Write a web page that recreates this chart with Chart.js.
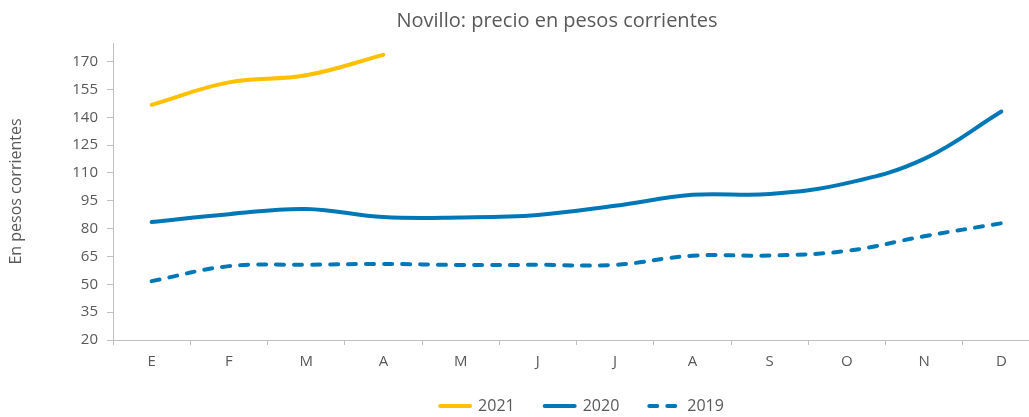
<!DOCTYPE html>
<html>
<head>
<meta charset="utf-8">
<script src="https://cdn.jsdelivr.net/npm/chart.js@4/dist/chart.umd.min.js"></script>
<style>
  body { margin: 0; overflow: hidden; background: #fff; }
  #wrap { position: relative; width: 1045px; height: 428px; }
</style>
</head>
<body>
<div id="wrap"><canvas id="novillo"></canvas></div>
<script>
// meses (eje x)
const meses = ['E', 'F', 'M', 'A', 'M', 'J', 'J', 'A', 'S', 'O', 'N', 'D'];

// precios
const precio2021 = [146.7, 158.8, 162.6, 173.6];
const precio2020 = [83.6, 87.8, 90.6, 86.2, 86.0, 87.4, 92.3, 98.2, 98.6, 104.5, 117.6, 143.1];
const precio2019 = [51.7, 59.8, 60.5, 61.0, 60.4, 60.5, 60.5, 65.4, 65.5, 68.0, 75.9, 82.9];

// eje y
const yMin = 20;
const yMax = 180;
const yTicks = [20, 35, 50, 65, 80, 95, 110, 125, 140, 155, 170];

const gris = '#595959';
const lineaEje = '#bfbfbf';
const amarillo = '#FFC000';
const azul = '#0078B8';
const fuente = "'Open Sans', sans-serif";

// corre el titulo y la leyenda para ubicarlos como en el original
const nudge = {
  id: 'nudge',
  afterLayout(chart) {
    chart.titleBlock.left += 37;
    chart.titleBlock.right += 37;
    chart.legend.left += 62;
    chart.legend.right += 62;
    chart.legend.top -= 4;
  }
};

// leyenda: la linea punteada tiene que verse punteada
function etiquetas(chart) {
  const items = Chart.defaults.plugins.legend.labels.generateLabels(chart);
  items.forEach(item => {
    const ds = chart.data.datasets[item.datasetIndex];
    item.lineDash = ds.borderDash || [];
    item.lineCap = 'round';
  });
  return items;
}

const canvas = document.getElementById('novillo');

new Chart(canvas, {
  type: 'line',
  data: {
    labels: meses,
    datasets: [
      {
        label: '2021',
        data: precio2021,
        borderColor: amarillo,
        backgroundColor: amarillo,
        borderWidth: 4,
        borderCapStyle: 'round',
        pointRadius: 0,
        tension: 0.4
      },
      {
        label: '2020',
        data: precio2020,
        borderColor: azul,
        backgroundColor: azul,
        borderWidth: 4,
        borderCapStyle: 'round',
        pointRadius: 0,
        tension: 0.4
      },
      {
        label: '2019',
        data: precio2019,
        borderColor: azul,
        backgroundColor: azul,
        borderWidth: 4,
        borderCapStyle: 'round',
        borderDash: [8, 10],
        pointRadius: 0,
        tension: 0.4
      }
    ]
  },
  options: {
    responsive: true,
    maintainAspectRatio: false,
    animation: false,
    layout: { padding: { left: 0, right: 5, top: 0, bottom: 0 } },
    plugins: {
      title: {
        display: true,
        text: 'Novillo: precio en pesos corrientes',
        color: gris,
        font: { family: fuente, size: 20, weight: 'normal' },
        padding: { top: 9, bottom: 10 }
      },
      legend: {
        position: 'bottom',
        labels: {
          color: gris,
          font: { family: fuente, size: 16 },
          usePointStyle: true,
          pointStyle: 'line',
          pointStyleWidth: 30,
          padding: 30,
          generateLabels: etiquetas
        }
      },
      tooltip: { enabled: false }
    },
    scales: {
      x: {
        offset: true,
        afterFit(scale) { scale.height = 32; },
        grid: {
          offset: true,
          drawOnChartArea: false,
          tickLength: 5,
          color: lineaEje
        },
        border: { color: lineaEje },
        ticks: {
          color: gris,
          font: { family: fuente, size: 15 },
          padding: 8,
          maxRotation: 0
        }
      },
      y: {
        min: yMin,
        max: yMax,
        afterFit(scale) { scale.width = 113; },
        afterBuildTicks(scale) {
          scale.ticks = yTicks.map(v => ({ value: v }));
        },
        grid: {
          drawOnChartArea: false,
          tickLength: 6,
          color: lineaEje
        },
        border: { color: lineaEje },
        ticks: {
          color: gris,
          font: { family: fuente, size: 15 },
          padding: 9
        },
        title: {
          display: true,
          text: 'En pesos corrientes',
          color: gris,
          font: { family: fuente, size: 16 },
          padding: { top: 7, bottom: 0 }
        }
      }
    }
  },
  plugins: [nudge]
});
</script>
</body>
</html>
